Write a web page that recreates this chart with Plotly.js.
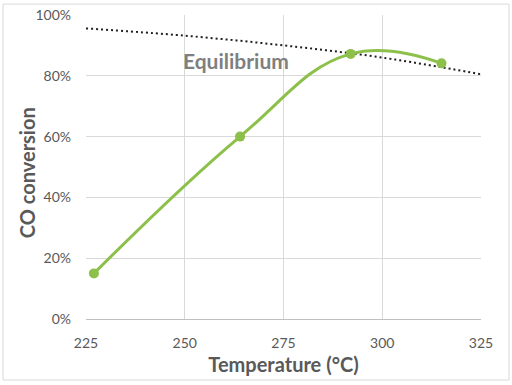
<!DOCTYPE html>
<html>
<head>
<meta charset="utf-8">
<script src="https://cdn.plot.ly/plotly-3.0.1.min.js"></script>
<style>html,body{margin:0;padding:0;background:#fff}#chart{width:512px;height:385px}</style>
</head>
<body>
<div id="chart"></div>
<script>
var temperature = [227, 264, 292, 315];
var conversion = [0.15, 0.60, 0.872, 0.841];
var eqTemperature = [225, 250, 275, 300, 325];
var eqConversion = [0.956, 0.932, 0.900, 0.860, 0.805];
var xTicks = [225, 250, 275, 300, 325];
var yTicks = [0, 0.2, 0.4, 0.6, 0.8, 1.0];
var yTickLabels = ['0%', '20%', '40%', '60%', '80%', '100%'];

var fontFam = 'Lato, "Open Sans", sans-serif';
var traces = [
  {x: eqTemperature, y: eqConversion, mode: 'lines', type: 'scatter',
   line: {color: '#1f1f1f', width: 2, dash: '2px,3px', shape: 'spline'}, hoverinfo: 'skip'},
  {x: temperature, y: conversion, mode: 'lines+markers', type: 'scatter',
   line: {color: '#8cc04a', width: 3, shape: 'spline', smoothing: 1.2},
   marker: {color: '#8cc04a', size: 10}}
];
var layout = {
  width: 512, height: 385,
  margin: {l: 86, r: 31, t: 15, b: 66},
  paper_bgcolor: '#ffffff', plot_bgcolor: '#ffffff',
  showlegend: false,
  font: {family: fontFam, color: '#595959', size: 14},
  xaxis: {range: [225, 325], tickvals: xTicks, showgrid: true, gridcolor: '#d9d9d9', gridwidth: 1,
          showline: true, linecolor: '#bfbfbf', linewidth: 1, zeroline: false, ticks: '',
          ticklabelstandoff: 11,
          tickfont: {size: 14, color: '#595959'},
          title: {text: 'Temperature (°C)', font: {size: 20, color: '#595959', family: fontFam, weight: 'bold'}, standoff: 8}},
  yaxis: {range: [0, 1], tickvals: yTicks, ticktext: yTickLabels, showgrid: true, gridcolor: '#d9d9d9', gridwidth: 1,
          zeroline: false, showline: false, ticks: '',
          ticklabelstandoff: 14,
          tickfont: {size: 14, color: '#595959'}},
  annotations: [
    {x: 263, y: 0.85, xref: 'x', yref: 'y', text: '<b>Equilibrium</b>', showarrow: false,
     font: {size: 21, color: '#7f7f7f', family: fontFam}},
    {x: -0.149, y: 0.48, xref: 'paper', yref: 'paper', text: '<b>CO conversion</b>', showarrow: false,
     textangle: -90, xanchor: 'center', yanchor: 'middle',
     font: {size: 20, color: '#595959', family: fontFam}}
  ],
  shapes: [{type: 'rect', xref: 'paper', yref: 'paper', x0: -0.210, x1: 1.071, y0: -0.2007, y1: 1.036,
            line: {color: '#d9d9d9', width: 1}, fillcolor: 'rgba(0,0,0,0)', layer: 'below'}]
};
Plotly.newPlot('chart', traces, layout, {displayModeBar: false, staticPlot: true});
</script>
</body>
</html>
